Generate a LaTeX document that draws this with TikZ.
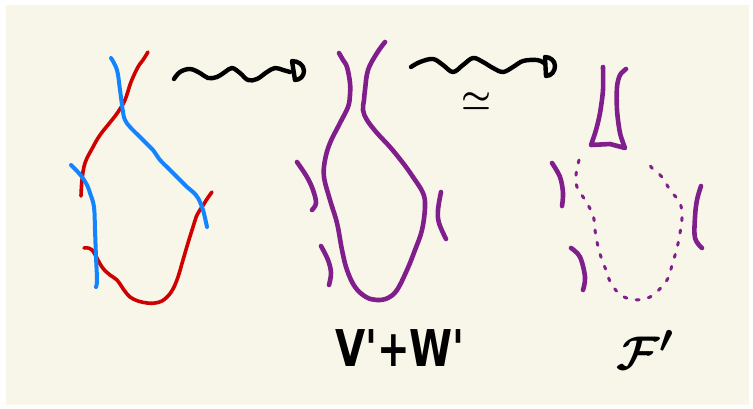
\documentclass[tikz,border=0pt]{standalone}
\usepackage{fontspec}
\newfontfamily\handfont{DejaVu Sans}
\definecolor{cream}{RGB}{248,245,233}
\definecolor{myred}{RGB}{206,0,0}
\definecolor{myblue}{RGB}{18,132,255}
\definecolor{mypurple}{RGB}{128,30,140}
\tikzset{
  stroke/.style={line cap=round, line join=round},
  redline/.style={stroke, draw=myred, line width=3.6pt},
  blueline/.style={stroke, draw=myblue, line width=4pt},
  purpline/.style={stroke, draw=mypurple, line width=4.6pt},
  dotline/.style={stroke, draw=mypurple, line width=3pt, dash pattern=on 3pt off 9.5pt},
  wiggle/.style={stroke, draw=black, line width=4.4pt},
  lbl/.style={inner sep=0pt, text=black}
}
\begin{document}
\begin{tikzpicture}[x=1pt, y=-1pt]
\useasboundingbox (0,0) rectangle (753,408);
\fill[white] (0,0) rectangle (753,408);
\fill[cream] (6,5) rectangle (749,405);

% left picture
\draw[redline] plot[smooth, tension=0.6] coordinates {(148,52) (143,60) (138,67) (131,82) (125,100) (118,112) (112,120) (100,135) (93,147) (85,163) (82,180) (81,196)};
\draw[redline] plot[smooth, tension=0.6] coordinates {(84,248) (92,250) (102,267) (110,275) (117,280) (124,290) (130,297) (138,301) (147,303) (155,303) (162,301) (168,296) (173,289) (178,277) (183,260) (188,243) (193,227) (197,215) (202,207) (207,199) (212,192)};
\draw[blueline] plot[smooth, tension=0.6] coordinates {(111,58) (117,70) (120,90) (123,112) (125,120) (130,127) (140,137) (148,145) (153,150) (160,160) (167,167) (173,173) (180,180) (187,187) (193,192) (198,198) (203,210) (207,227)};
\draw[blueline] plot[smooth, tension=0.6] coordinates {(71,165) (77,171) (82,177) (87,185) (90,193) (94,207) (95,230) (96,257) (97,280) (96,287)};

% first wiggly arrow
\draw[wiggle] plot[smooth, tension=0.6] coordinates {(174,79) (180,72) (190,69) (200,73) (208,78) (217,77) (225,72) (232,68) (240,73) (248,80) (257,79) (267,72) (275,68) (283,70) (290,72)};
\draw[wiggle] (292,61) to[out=0,in=90] (304,71) to[out=-90,in=0] (295,80) -- cycle;

% middle picture
\draw[purpline] plot[smooth, tension=0.6] coordinates {(339,53) (343,60) (347,67) (350,83) (350,95) (348,107) (340,123) (330,143) (325,160) (324,177) (330,200) (337,223) (342,250) (347,270) (355,287) (366,297) (377,300) (388,298) (397,290) (407,270) (415,250) (422,230) (425,207) (423,193) (413,177) (403,163) (390,147) (377,133) (367,120) (363,110) (364,100) (365,90) (368,70) (377,53) (385,42)};
\draw[purpline] plot[smooth, tension=0.6] coordinates {(297,162) (307,177) (313,190) (316,203) (312,210)};
\draw[purpline] plot[smooth, tension=0.6] coordinates {(321,246) (328,260) (331,273) (329,285)};
\draw[purpline] plot[smooth, tension=0.6] coordinates {(441,192) (438,210) (439,223) (446,239)};

% second wiggly arrow
\draw[wiggle] plot[smooth, tension=0.6] coordinates {(411,67) (420,62) (433,59) (443,65) (453,72) (463,65) (473,58) (483,62) (493,68) (503,72) (513,67) (523,61) (537,60) (544,63)};
\draw[wiggle] (545,57) to[out=0,in=90] (555,66) to[out=-90,in=0] (546,76) -- cycle;
\node[lbl, scale=1.35, font=\boldmath\Huge] (sim) at (477,101) {$\simeq$};

% right picture
\draw[purpline] plot[smooth, tension=0.5] coordinates {(603,67) (603,90) (600,113) (596,130) (591,145)} -- (610,144) -- plot[smooth, tension=0.5] coordinates {(625,148) (620,133) (617,110) (617,87) (620,75) (626,69)};
\draw[purpline] plot[smooth, tension=0.6] coordinates {(552,163) (560,177) (563,193) (562,206)};
\draw[purpline] plot[smooth, tension=0.6] coordinates {(571,248) (580,257) (585,277) (583,290)};
\draw[purpline] plot[smooth, tension=0.6] coordinates {(701,186) (697,200) (695,217) (695,238) (702,248)};
\draw[dotline] plot[smooth, tension=0.6] coordinates {(579,160) (576,175) (577,187) (585,200) (593,215) (595,230) (597,242) (601,257) (606,270) (613,287) (629,299) (650,297) (667,280) (672,265) (677,248) (680,233) (682,218) (680,203) (670,190) (662,177) (652,168) (645,159)};

% labels
\node[lbl, yscale=1.3, font=\handfont\bfseries\fontsize{39}{39}\selectfont] (vw) at (400,348) {V'+W'};
\node[lbl, scale=1.9, font=\boldmath\Huge] (fp) at (645,350) {$\mathcal{F}'$};
\end{tikzpicture}
\end{document}
